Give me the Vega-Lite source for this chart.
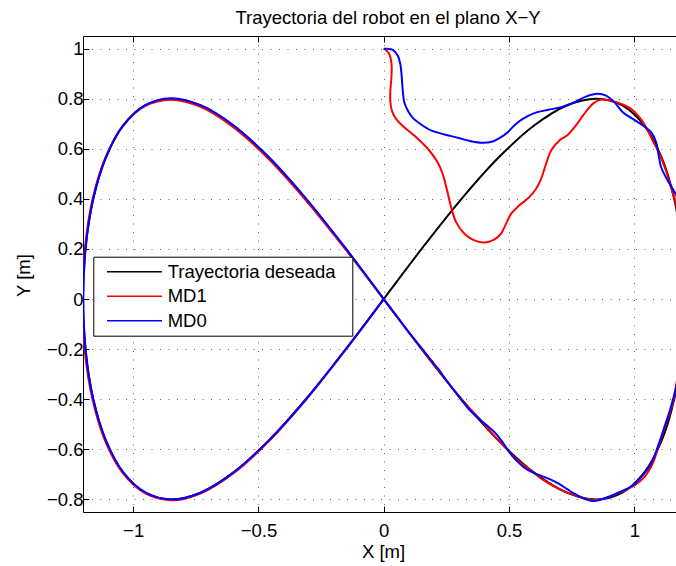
{
  "$schema": "https://vega.github.io/schema/vega-lite/v6.json",
  "width": 594,
  "height": 476,
  "autosize": {"type": "none"},
  "padding": {"left": 83, "top": 36, "right": 0, "bottom": 54},
  "background": "white",
  "title": {
    "text": "Trayectoria del robot en el plano X−Y",
    "font": "Liberation Sans",
    "fontSize": 18.5,
    "fontWeight": "normal",
    "color": "black",
    "anchor": "middle",
    "frame": "group",
    "baseline": "alphabetic",
    "offset": 13,
    "dx": 8,
    "dy": 20
  },
  "config": {
    "view": {"stroke": null},
    "font": "Liberation Sans"
  },
  "data": {
    "values": [
      {"serie": "Trayectoria deseada", "i": 1, "x": 0, "y": 0},
      {"serie": "Trayectoria deseada", "i": 2, "x": 0.1566, "y": 0.2071},
      {"serie": "Trayectoria deseada", "i": 3, "x": 0.3106, "y": 0.4},
      {"serie": "Trayectoria deseada", "i": 4, "x": 0.4592, "y": 0.5657},
      {"serie": "Trayectoria deseada", "i": 5, "x": 0.6, "y": 0.6928},
      {"serie": "Trayectoria deseada", "i": 6, "x": 0.7306, "y": 0.7727},
      {"serie": "Trayectoria deseada", "i": 7, "x": 0.8485, "y": 0.8},
      {"serie": "Trayectoria deseada", "i": 8, "x": 0.9521, "y": 0.7727},
      {"serie": "Trayectoria deseada", "i": 9, "x": 1.0392, "y": 0.6928},
      {"serie": "Trayectoria deseada", "i": 10, "x": 1.1087, "y": 0.5657},
      {"serie": "Trayectoria deseada", "i": 11, "x": 1.1591, "y": 0.4},
      {"serie": "Trayectoria deseada", "i": 12, "x": 1.1897, "y": 0.2071},
      {"serie": "Trayectoria deseada", "i": 13, "x": 1.2, "y": 0},
      {"serie": "Trayectoria deseada", "i": 14, "x": 1.1897, "y": -0.2071},
      {"serie": "Trayectoria deseada", "i": 15, "x": 1.1591, "y": -0.4},
      {"serie": "Trayectoria deseada", "i": 16, "x": 1.1087, "y": -0.5657},
      {"serie": "Trayectoria deseada", "i": 17, "x": 1.0392, "y": -0.6928},
      {"serie": "Trayectoria deseada", "i": 18, "x": 0.9521, "y": -0.7727},
      {"serie": "Trayectoria deseada", "i": 19, "x": 0.8485, "y": -0.8},
      {"serie": "Trayectoria deseada", "i": 20, "x": 0.7306, "y": -0.7727},
      {"serie": "Trayectoria deseada", "i": 21, "x": 0.6, "y": -0.6928},
      {"serie": "Trayectoria deseada", "i": 22, "x": 0.4592, "y": -0.5657},
      {"serie": "Trayectoria deseada", "i": 23, "x": 0.3106, "y": -0.4},
      {"serie": "Trayectoria deseada", "i": 24, "x": 0.1566, "y": -0.2071},
      {"serie": "Trayectoria deseada", "i": 25, "x": 0, "y": 0},
      {"serie": "Trayectoria deseada", "i": 26, "x": -0.1566, "y": 0.2071},
      {"serie": "Trayectoria deseada", "i": 27, "x": -0.3106, "y": 0.4},
      {"serie": "Trayectoria deseada", "i": 28, "x": -0.4592, "y": 0.5657},
      {"serie": "Trayectoria deseada", "i": 29, "x": -0.6, "y": 0.6928},
      {"serie": "Trayectoria deseada", "i": 30, "x": -0.7306, "y": 0.7727},
      {"serie": "Trayectoria deseada", "i": 31, "x": -0.8485, "y": 0.8},
      {"serie": "Trayectoria deseada", "i": 32, "x": -0.9521, "y": 0.7727},
      {"serie": "Trayectoria deseada", "i": 33, "x": -1.0392, "y": 0.6928},
      {"serie": "Trayectoria deseada", "i": 34, "x": -1.1087, "y": 0.5657},
      {"serie": "Trayectoria deseada", "i": 35, "x": -1.1591, "y": 0.4},
      {"serie": "Trayectoria deseada", "i": 36, "x": -1.1897, "y": 0.2071},
      {"serie": "Trayectoria deseada", "i": 37, "x": -1.2, "y": 0},
      {"serie": "Trayectoria deseada", "i": 38, "x": -1.1897, "y": -0.2071},
      {"serie": "Trayectoria deseada", "i": 39, "x": -1.1591, "y": -0.4},
      {"serie": "Trayectoria deseada", "i": 40, "x": -1.1087, "y": -0.5657},
      {"serie": "Trayectoria deseada", "i": 41, "x": -1.0392, "y": -0.6928},
      {"serie": "Trayectoria deseada", "i": 42, "x": -0.9521, "y": -0.7727},
      {"serie": "Trayectoria deseada", "i": 43, "x": -0.8485, "y": -0.8},
      {"serie": "Trayectoria deseada", "i": 44, "x": -0.7306, "y": -0.7727},
      {"serie": "Trayectoria deseada", "i": 45, "x": -0.6, "y": -0.6928},
      {"serie": "Trayectoria deseada", "i": 46, "x": -0.4592, "y": -0.5657},
      {"serie": "Trayectoria deseada", "i": 47, "x": -0.3106, "y": -0.4},
      {"serie": "Trayectoria deseada", "i": 48, "x": -0.1566, "y": -0.2071},
      {"serie": "Trayectoria deseada", "i": 49, "x": 0, "y": 0},

      {"serie": "MD1", "i": 1, "x": 0.0, "y": 1.0},
      {"serie": "MD1", "i": 2, "x": 0.020, "y": 0.982},
      {"serie": "MD1", "i": 3, "x": 0.031, "y": 0.940},
      {"serie": "MD1", "i": 4, "x": 0.031, "y": 0.890},
      {"serie": "MD1", "i": 5, "x": 0.027, "y": 0.840},
      {"serie": "MD1", "i": 6, "x": 0.026, "y": 0.792},
      {"serie": "MD1", "i": 7, "x": 0.032, "y": 0.753},
      {"serie": "MD1", "i": 8, "x": 0.049, "y": 0.719},
      {"serie": "MD1", "i": 9, "x": 0.082, "y": 0.686},
      {"serie": "MD1", "i": 10, "x": 0.136, "y": 0.640},
      {"serie": "MD1", "i": 11, "x": 0.182, "y": 0.593},
      {"serie": "MD1", "i": 12, "x": 0.215, "y": 0.546},
      {"serie": "MD1", "i": 13, "x": 0.235, "y": 0.500},
      {"serie": "MD1", "i": 14, "x": 0.253, "y": 0.433},
      {"serie": "MD1", "i": 15, "x": 0.269, "y": 0.367},
      {"serie": "MD1", "i": 16, "x": 0.289, "y": 0.307},
      {"serie": "MD1", "i": 17, "x": 0.322, "y": 0.261},
      {"serie": "MD1", "i": 18, "x": 0.362, "y": 0.234},
      {"serie": "MD1", "i": 19, "x": 0.401, "y": 0.226},
      {"serie": "MD1", "i": 20, "x": 0.441, "y": 0.237},
      {"serie": "MD1", "i": 21, "x": 0.468, "y": 0.261},
      {"serie": "MD1", "i": 22, "x": 0.488, "y": 0.300},
      {"serie": "MD1", "i": 23, "x": 0.508, "y": 0.340},
      {"serie": "MD1", "i": 24, "x": 0.541, "y": 0.374},
      {"serie": "MD1", "i": 25, "x": 0.581, "y": 0.407},
      {"serie": "MD1", "i": 26, "x": 0.608, "y": 0.440},
      {"serie": "MD1", "i": 27, "x": 0.628, "y": 0.480},
      {"serie": "MD1", "i": 28, "x": 0.648, "y": 0.540},
      {"serie": "MD1", "i": 29, "x": 0.668, "y": 0.593},
      {"serie": "MD1", "i": 30, "x": 0.701, "y": 0.633},
      {"serie": "MD1", "i": 31, "x": 0.734, "y": 0.655},
      {"serie": "MD1", "i": 32, "x": 0.767, "y": 0.693},
      {"serie": "MD1", "i": 33, "x": 0.800, "y": 0.739},
      {"serie": "MD1", "i": 34, "x": 0.834, "y": 0.779},
      {"serie": "MD1", "i": 35, "x": 0.867, "y": 0.796},
      {"serie": "MD1", "i": 36, "x": 0.907, "y": 0.792},
      {"serie": "MD1", "i": 37, "x": 0.947, "y": 0.779},
      {"serie": "MD1", "i": 38, "x": 0.987, "y": 0.759},
      {"serie": "MD1", "i": 39, "x": 1.020, "y": 0.726},
      {"serie": "MD1", "i": 40, "x": 1.047, "y": 0.686},
      {"serie": "MD1", "i": 41, "x": 1.073, "y": 0.633},
      {"serie": "MD1", "i": 42, "x": 1.100, "y": 0.580},
      {"serie": "MD1", "i": 43, "x": 1.126, "y": 0.513},
      {"serie": "MD1", "i": 44, "x": 1.146, "y": 0.447},
      {"serie": "MD1", "i": 45, "x": 1.166, "y": 0.380},
      {"serie": "MD1", "i": 46, "x": 1.180, "y": 0.300},
      {"serie": "MD1", "i": 47, "x": 1.194, "y": 0.200},
      {"serie": "MD1", "i": 48, "x": 1.201, "y": 0.050},
      {"serie": "MD1", "i": 49, "x": 1.199, "y": -0.100},
      {"serie": "MD1", "i": 50, "x": 1.188, "y": -0.220},
      {"serie": "MD1", "i": 51, "x": 1.170, "y": -0.325},
      {"serie": "MD1", "i": 52, "x": 1.153, "y": -0.418},
      {"serie": "MD1", "i": 53, "x": 1.126, "y": -0.498},
      {"serie": "MD1", "i": 54, "x": 1.100, "y": -0.577},
      {"serie": "MD1", "i": 55, "x": 1.073, "y": -0.657},
      {"serie": "MD1", "i": 56, "x": 1.040, "y": -0.711},
      {"serie": "MD1", "i": 57, "x": 1.000, "y": -0.744},
      {"serie": "MD1", "i": 58, "x": 0.947, "y": -0.771},
      {"serie": "MD1", "i": 59, "x": 0.894, "y": -0.791},
      {"serie": "MD1", "i": 60, "x": 0.850, "y": -0.802},
      {"serie": "MD1", "i": 61, "x": 0.800, "y": -0.795},
      {"serie": "MD1", "i": 62, "x": 0.761, "y": -0.781},
      {"serie": "MD1", "i": 63, "x": 0.730, "y": -0.771},
      {"serie": "MD1", "i": 64, "x": 0.680, "y": -0.748},
      {"serie": "MD1", "i": 65, "x": 0.630, "y": -0.718},
      {"serie": "MD1", "i": 66, "x": 0.575, "y": -0.675},
      {"serie": "MD1", "i": 67, "x": 0.530, "y": -0.640},
      {"serie": "MD1", "i": 68, "x": 0.500, "y": -0.608},
      {"serie": "MD1", "i": 69, "x": 0.459, "y": -0.566},
      {"serie": "MD1", "i": 70, "x": 0.420, "y": -0.522},
      {"serie": "MD1", "i": 71, "x": 0.388, "y": -0.484},
      {"serie": "MD1", "i": 72, "x": 0.350, "y": -0.444},
      {"serie": "MD1", "i": 73, "x": 0.311, "y": -0.402},
      {"serie": "MD1", "i": 74, "x": 0.255, "y": -0.331},
      {"serie": "MD1", "i": 75, "x": 0.200, "y": -0.262},
      {"serie": "MD1", "i": 76, "x": 0.157, "y": -0.206},
      {"serie": "MD1", "i": 77, "x": 0.100, "y": -0.133},
      {"serie": "MD1", "i": 78, "x": 0.050, "y": -0.067},
      {"serie": "MD1", "i": 79, "x": 0.000, "y": 0.000},
      {"serie": "MD1", "i": 80, "x": -0.158, "y": 0.205},
      {"serie": "MD1", "i": 81, "x": -0.313, "y": 0.397},
      {"serie": "MD1", "i": 82, "x": -0.462, "y": 0.562},
      {"serie": "MD1", "i": 83, "x": -0.603, "y": 0.688},
      {"serie": "MD1", "i": 84, "x": -0.733, "y": 0.768},
      {"serie": "MD1", "i": 85, "x": -0.849, "y": 0.796},
      {"serie": "MD1", "i": 86, "x": -0.953, "y": 0.770},
      {"serie": "MD1", "i": 87, "x": -1.041, "y": 0.690},
      {"serie": "MD1", "i": 88, "x": -1.111, "y": 0.563},
      {"serie": "MD1", "i": 89, "x": -1.162, "y": 0.398},
      {"serie": "MD1", "i": 90, "x": -1.192, "y": 0.205},
      {"serie": "MD1", "i": 91, "x": -1.203, "y": 0.000},
      {"serie": "MD1", "i": 92, "x": -1.193, "y": -0.207},
      {"serie": "MD1", "i": 93, "x": -1.162, "y": -0.401},
      {"serie": "MD1", "i": 94, "x": -1.111, "y": -0.568},
      {"serie": "MD1", "i": 95, "x": -1.041, "y": -0.695},
      {"serie": "MD1", "i": 96, "x": -0.953, "y": -0.775},
      {"serie": "MD1", "i": 97, "x": -0.848, "y": -0.803},
      {"serie": "MD1", "i": 98, "x": -0.729, "y": -0.775},
      {"serie": "MD1", "i": 99, "x": -0.598, "y": -0.694},
      {"serie": "MD1", "i": 100, "x": -0.457, "y": -0.566},
      {"serie": "MD1", "i": 101, "x": -0.309, "y": -0.400},
      {"serie": "MD1", "i": 102, "x": -0.155, "y": -0.206},
      {"serie": "MD1", "i": 103, "x": 0.000, "y": 0.000},

      {"serie": "MD0", "i": 1, "x": 0.000, "y": 0.999},
      {"serie": "MD0", "i": 2, "x": 0.036, "y": 0.995},
      {"serie": "MD0", "i": 3, "x": 0.056, "y": 0.972},
      {"serie": "MD0", "i": 4, "x": 0.066, "y": 0.939},
      {"serie": "MD0", "i": 5, "x": 0.072, "y": 0.886},
      {"serie": "MD0", "i": 6, "x": 0.076, "y": 0.832},
      {"serie": "MD0", "i": 7, "x": 0.082, "y": 0.786},
      {"serie": "MD0", "i": 8, "x": 0.096, "y": 0.753},
      {"serie": "MD0", "i": 9, "x": 0.116, "y": 0.723},
      {"serie": "MD0", "i": 10, "x": 0.149, "y": 0.697},
      {"serie": "MD0", "i": 11, "x": 0.189, "y": 0.673},
      {"serie": "MD0", "i": 12, "x": 0.242, "y": 0.657},
      {"serie": "MD0", "i": 13, "x": 0.295, "y": 0.644},
      {"serie": "MD0", "i": 14, "x": 0.348, "y": 0.630},
      {"serie": "MD0", "i": 15, "x": 0.395, "y": 0.624},
      {"serie": "MD0", "i": 16, "x": 0.435, "y": 0.629},
      {"serie": "MD0", "i": 17, "x": 0.468, "y": 0.646},
      {"serie": "MD0", "i": 18, "x": 0.495, "y": 0.666},
      {"serie": "MD0", "i": 19, "x": 0.521, "y": 0.693},
      {"serie": "MD0", "i": 20, "x": 0.555, "y": 0.719},
      {"serie": "MD0", "i": 21, "x": 0.601, "y": 0.742},
      {"serie": "MD0", "i": 22, "x": 0.654, "y": 0.755},
      {"serie": "MD0", "i": 23, "x": 0.708, "y": 0.766},
      {"serie": "MD0", "i": 24, "x": 0.761, "y": 0.786},
      {"serie": "MD0", "i": 25, "x": 0.807, "y": 0.808},
      {"serie": "MD0", "i": 26, "x": 0.854, "y": 0.819},
      {"serie": "MD0", "i": 27, "x": 0.887, "y": 0.812},
      {"serie": "MD0", "i": 28, "x": 0.920, "y": 0.786},
      {"serie": "MD0", "i": 29, "x": 0.954, "y": 0.746},
      {"serie": "MD0", "i": 30, "x": 0.994, "y": 0.719},
      {"serie": "MD0", "i": 31, "x": 1.034, "y": 0.693},
      {"serie": "MD0", "i": 32, "x": 1.067, "y": 0.666},
      {"serie": "MD0", "i": 33, "x": 1.087, "y": 0.626},
      {"serie": "MD0", "i": 34, "x": 1.096, "y": 0.580},
      {"serie": "MD0", "i": 35, "x": 1.107, "y": 0.526},
      {"serie": "MD0", "i": 36, "x": 1.126, "y": 0.486},
      {"serie": "MD0", "i": 37, "x": 1.153, "y": 0.440},
      {"serie": "MD0", "i": 38, "x": 1.170, "y": 0.407},
      {"serie": "MD0", "i": 39, "x": 1.190, "y": 0.300},
      {"serie": "MD0", "i": 40, "x": 1.205, "y": 0.150},
      {"serie": "MD0", "i": 41, "x": 1.210, "y": 0.000},
      {"serie": "MD0", "i": 42, "x": 1.200, "y": -0.150},
      {"serie": "MD0", "i": 43, "x": 1.185, "y": -0.260},
      {"serie": "MD0", "i": 44, "x": 1.170, "y": -0.338},
      {"serie": "MD0", "i": 45, "x": 1.146, "y": -0.431},
      {"serie": "MD0", "i": 46, "x": 1.120, "y": -0.511},
      {"serie": "MD0", "i": 47, "x": 1.093, "y": -0.591},
      {"serie": "MD0", "i": 48, "x": 1.067, "y": -0.657},
      {"serie": "MD0", "i": 49, "x": 1.034, "y": -0.704},
      {"serie": "MD0", "i": 50, "x": 0.994, "y": -0.744},
      {"serie": "MD0", "i": 51, "x": 0.947, "y": -0.768},
      {"serie": "MD0", "i": 52, "x": 0.894, "y": -0.791},
      {"serie": "MD0", "i": 53, "x": 0.840, "y": -0.806},
      {"serie": "MD0", "i": 54, "x": 0.800, "y": -0.797},
      {"serie": "MD0", "i": 55, "x": 0.761, "y": -0.777},
      {"serie": "MD0", "i": 56, "x": 0.734, "y": -0.760},
      {"serie": "MD0", "i": 57, "x": 0.700, "y": -0.738},
      {"serie": "MD0", "i": 58, "x": 0.660, "y": -0.718},
      {"serie": "MD0", "i": 59, "x": 0.628, "y": -0.706},
      {"serie": "MD0", "i": 60, "x": 0.590, "y": -0.690},
      {"serie": "MD0", "i": 61, "x": 0.561, "y": -0.673},
      {"serie": "MD0", "i": 62, "x": 0.530, "y": -0.645},
      {"serie": "MD0", "i": 63, "x": 0.500, "y": -0.610},
      {"serie": "MD0", "i": 64, "x": 0.470, "y": -0.565},
      {"serie": "MD0", "i": 65, "x": 0.441, "y": -0.530},
      {"serie": "MD0", "i": 66, "x": 0.410, "y": -0.503},
      {"serie": "MD0", "i": 67, "x": 0.380, "y": -0.478},
      {"serie": "MD0", "i": 68, "x": 0.340, "y": -0.440},
      {"serie": "MD0", "i": 69, "x": 0.308, "y": -0.400},
      {"serie": "MD0", "i": 70, "x": 0.260, "y": -0.338},
      {"serie": "MD0", "i": 71, "x": 0.215, "y": -0.276},
      {"serie": "MD0", "i": 72, "x": 0.189, "y": -0.244},
      {"serie": "MD0", "i": 73, "x": 0.150, "y": -0.195},
      {"serie": "MD0", "i": 74, "x": 0.100, "y": -0.132},
      {"serie": "MD0", "i": 75, "x": 0.050, "y": -0.066},
      {"serie": "MD0", "i": 76, "x": 0.000, "y": 0.000},
      {"serie": "MD0", "i": 77, "x": -0.156, "y": 0.208},
      {"serie": "MD0", "i": 78, "x": -0.310, "y": 0.401},
      {"serie": "MD0", "i": 79, "x": -0.459, "y": 0.567},
      {"serie": "MD0", "i": 80, "x": -0.600, "y": 0.694},
      {"serie": "MD0", "i": 81, "x": -0.731, "y": 0.774},
      {"serie": "MD0", "i": 82, "x": -0.849, "y": 0.802},
      {"serie": "MD0", "i": 83, "x": -0.952, "y": 0.774},
      {"serie": "MD0", "i": 84, "x": -1.039, "y": 0.694},
      {"serie": "MD0", "i": 85, "x": -1.108, "y": 0.566},
      {"serie": "MD0", "i": 86, "x": -1.159, "y": 0.400},
      {"serie": "MD0", "i": 87, "x": -1.189, "y": 0.207},
      {"serie": "MD0", "i": 88, "x": -1.199, "y": 0.000},
      {"serie": "MD0", "i": 89, "x": -1.189, "y": -0.207},
      {"serie": "MD0", "i": 90, "x": -1.159, "y": -0.400},
      {"serie": "MD0", "i": 91, "x": -1.108, "y": -0.565},
      {"serie": "MD0", "i": 92, "x": -1.039, "y": -0.692},
      {"serie": "MD0", "i": 93, "x": -0.951, "y": -0.772},
      {"serie": "MD0", "i": 94, "x": -0.848, "y": -0.800},
      {"serie": "MD0", "i": 95, "x": -0.731, "y": -0.773},
      {"serie": "MD0", "i": 96, "x": -0.601, "y": -0.693},
      {"serie": "MD0", "i": 97, "x": -0.460, "y": -0.566},
      {"serie": "MD0", "i": 98, "x": -0.311, "y": -0.401},
      {"serie": "MD0", "i": 99, "x": -0.157, "y": -0.207},
      {"serie": "MD0", "i": 100, "x": 0.000, "y": 0.000}
    ]
  },
  "layer": [
    {
      "mark": {"type": "line", "strokeWidth": 2, "interpolate": "catmull-rom", "clip": true},
      "encoding": {
        "x": {
          "field": "x",
          "type": "quantitative",
          "scale": {"domain": [-1.2, 1.1703], "nice": false, "zero": false},
          "axis": {
            "orient": "bottom",
            "values": [-1, -0.5, 0, 0.5, 1],
            "format": "~g",
            "title": "X [m]",
            "titleFont": "Liberation Sans",
            "titleFontSize": 18.5,
            "titleFontWeight": "normal",
            "titleColor": "black",
            "titleX": 300,
            "titleY": 45,
            "titleBaseline": "alphabetic",
            "labelFont": "Liberation Sans",
            "labelFontSize": 18.5,
            "labelColor": "black",
            "labelPadding": 15,
            "labelFlush": false,
            "domainColor": "black",
            "domainWidth": 1,
            "tickColor": "black",
            "tickSize": -6,
            "tickWidth": 1,
            "grid": true,
            "gridColor": "black",
            "gridOpacity": 0.6,
            "gridWidth": 1,
            "gridDash": [1, 7.5]
          }
        },
        "y": {
          "field": "y",
          "type": "quantitative",
          "scale": {"domain": [-0.85, 1.05], "nice": false, "zero": false},
          "axis": {
            "orient": "left",
            "values": [-0.8, -0.6, -0.4, -0.2, 0, 0.2, 0.4, 0.6, 0.8, 1],
            "format": "~g",
            "title": "Y [m]",
            "titleFont": "Liberation Sans",
            "titleFontSize": 18.5,
            "titleFontWeight": "normal",
            "titleColor": "black",
            "titleAngle": -90,
            "titleX": -60,
            "titleY": 239,
            "titleAlign": "center",
            "titleBaseline": "middle",
            "labelFont": "Liberation Sans",
            "labelFontSize": 18.5,
            "labelColor": "black",
            "labelPadding": 6,
            "labelFlush": false,
            "domainColor": "black",
            "domainWidth": 1,
            "tickColor": "black",
            "tickSize": -6,
            "tickWidth": 1,
            "grid": true,
            "gridColor": "black",
            "gridOpacity": 0.6,
            "gridWidth": 1,
            "gridDash": [1, 7.5]
          }
        },
        "color": {
          "field": "serie",
          "type": "nominal",
          "scale": {
            "domain": ["Trayectoria deseada", "MD1", "MD0"],
            "range": ["#000000", "#ff0000", "#0000ff"]
          },
          "legend": {
            "orient": "none",
            "legendX": 10.3,
            "legendY": 220.7,
            "direction": "vertical",
            "title": "\u00a0",
            "titleOrient": "right",
            "titlePadding": 13,
            "titleFontSize": 4,
            "symbolType": "stroke",
            "symbolSize": 3025,
            "symbolStrokeWidth": 1.5,
            "clipHeight": 22,
            "rowPadding": 2.5,
            "padding": 4,
            "symbolOffset": 8.7,
            "labelOffset": 4.7,
            "labelLimit": 400,
            "labelFont": "Liberation Sans",
            "labelFontSize": 18.5,
            "labelColor": "black",
            "strokeColor": "black",
            "fillColor": "white",
            "cornerRadius": 0
          }
        },
        "order": {"field": "i", "type": "quantitative"}
      }
    },
    {
      "transform": [{"filter": "datum.serie === 'Trayectoria deseada'"}],
      "mark": {"type": "line", "strokeOpacity": 0, "clip": true},
      "encoding": {
        "x": {
          "field": "x",
          "type": "quantitative",
          "axis": {
            "orient": "top",
            "values": [-1, -0.5, 0, 0.5, 1],
            "labels": false,
            "title": null,
            "grid": false,
            "domainColor": "black",
            "domainWidth": 1,
            "tickColor": "black",
            "tickSize": -6,
            "tickWidth": 1
          }
        },
        "y": {"field": "y", "type": "quantitative", "axis": null},
        "order": {"field": "i", "type": "quantitative"}
      }
    }
  ],
  "resolve": {"axis": {"x": "independent", "y": "independent"}}
}
